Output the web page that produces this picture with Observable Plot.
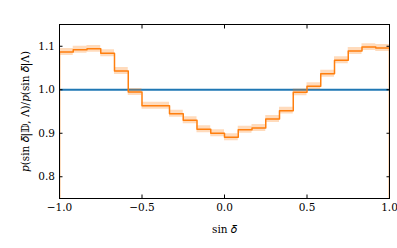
<!DOCTYPE html>
<html><head>
<meta charset="utf-8">
<script src="https://cdn.jsdelivr.net/npm/d3@7"></script>
<script src="https://cdn.jsdelivr.net/npm/@observablehq/plot@0.6"></script>
<style>body{margin:0;background:#fff} svg, svg text{font-family:"DejaVu Serif",serif !important;}</style>
</head><body><div id="c"></div>
<script>
const binEdges = [-1.0000,-0.9167,-0.8333,-0.7500,-0.6667,-0.5833,-0.5000,-0.4167,-0.3333,-0.2500,-0.1667,-0.0833,0.0000,0.0833,0.1667,0.2500,0.3333,0.4167,0.5000,0.5833,0.6667,0.7500,0.8333,0.9167,1.0000];
const ratio = [1.087,1.092,1.094,1.084,1.043,0.995,0.963,0.963,0.945,0.930,0.909,0.900,0.891,0.908,0.912,0.933,0.952,0.994,1.008,1.037,1.068,1.089,1.098,1.096];
const ratioErr = [0.008,0.008,0.008,0.008,0.008,0.008,0.008,0.008,0.008,0.008,0.008,0.008,0.008,0.008,0.008,0.008,0.008,0.008,0.008,0.008,0.008,0.008,0.008,0.008];
const xTicks = [-1.0,-0.5,0.0,0.5,1.0];
const yTicks = [0.8,0.9,1.0,1.1];
const reference = [1.0];

const band = ratio.map((v,i)=>({x:binEdges[i], lo:v-ratioErr[i], hi:v+ratioErr[i]}));
band.push({x:binEdges[24], lo:band[23].lo, hi:band[23].hi});
const step = [{x:binEdges[0], y:0}];
ratio.forEach((v,i)=>step.push({x:binEdges[i], y:v}));
step.push({x:binEdges[24], y:ratio[23]});
step.push({x:binEdges[24], y:0});

const fmt = d3.format(".1f");
const chart = Plot.plot({
  width: 397, height: 248,
  marginLeft: 59, marginRight: 8, marginTop: 24, marginBottom: 50,
  style: {fontFamily: "'DejaVu Serif', serif", fontSize: "10.5px", color: "black", background: "white"},
  x: {domain: [-1, 1]},
  y: {domain: [0.75, 1.15]},
  marks: [
    Plot.ruleY(reference, {stroke: "#1f77b4", strokeWidth: 2}),
    Plot.areaY(band, {x: "x", y1: "lo", y2: "hi", curve: "step-after", fill: "#ff7f0e", fillOpacity: 0.28}),
    Plot.line(step, {x: "x", y: "y", curve: "step-after", stroke: "#ff7f0e", strokeWidth: 1.5, clip: true}),
    Plot.frame({stroke: "black", strokeWidth: 1}),
    Plot.axisX(xTicks, {anchor: "bottom", tickSize: -3.5, tickPadding: 9, tickFormat: fmt, label: "sin 𝛿", labelAnchor: "center", labelArrow: "none", labelOffset: 34}),
    Plot.axisX(xTicks, {anchor: "top", tickSize: -3.5, tickFormat: () => "", label: null}),
    Plot.axisY(yTicks, {anchor: "left", tickSize: -3.5, tickPadding: 8, tickFormat: fmt, label: "𝑝(sin 𝛿|𝔻, Λ)/𝑝(sin 𝛿|Λ)", labelAnchor: "center", labelArrow: "none", labelOffset: 38}),
    Plot.axisY(yTicks, {anchor: "right", tickSize: -3.5, tickFormat: () => "", label: null})
  ]
});
document.getElementById("c").appendChild(chart);
</script>
</body></html>
